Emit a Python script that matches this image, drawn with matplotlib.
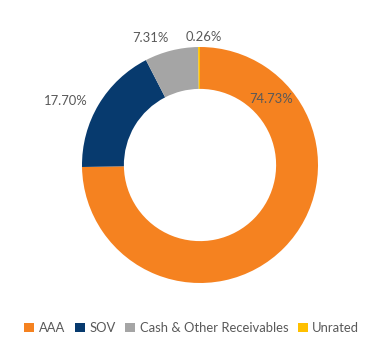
import matplotlib
matplotlib.use("Agg")
import matplotlib.pyplot as plt
from matplotlib.patches import Patch

categories = ["AAA", "SOV", "Cash & Other Receivables", "Unrated"]
values = [74.73, 17.70, 7.31, 0.26]
colors = ["#F58220", "#073A6E", "#A5A5A5", "#FFC000"]
value_labels = [f"{v:.2f}%" for v in values]

W, H = 369, 343
fig = plt.figure(figsize=(W / 100, H / 100), dpi=100)
ax = fig.add_axes([0, 0, 1, 1])

cx, cy = 200, H - 165
R = 118
ax.pie(values, colors=colors, startangle=90, counterclock=False,
       center=(cx, cy), radius=R, frame=True,
       wedgeprops=dict(width=R * 0.355, linewidth=0))
ax.set_xlim(0, W)
ax.set_ylim(0, H)
ax.set_aspect("equal")
ax.axis("off")

font = dict(family="Lato", weight="normal", size=9.4)

label_pos = [(271, H - 99), (66, H - 101), (150, H - 38), (204, H - 37)]
for txt, (x, y) in zip(value_labels, label_pos):
    ax.text(x, y, txt, ha="center", va="center", color="#595959", **font)

handles = [Patch(facecolor=c, edgecolor="none") for c in colors]
fig.legend(handles, categories, loc="center", bbox_to_anchor=(0.52, 1 - 328 / H),
           ncol=4, frameon=False, handlelength=0.75, handleheight=0.75,
           handletextpad=0.35, columnspacing=0.75,
           prop=font, labelcolor="#595959")

fig.savefig("out.png", dpi=100)
